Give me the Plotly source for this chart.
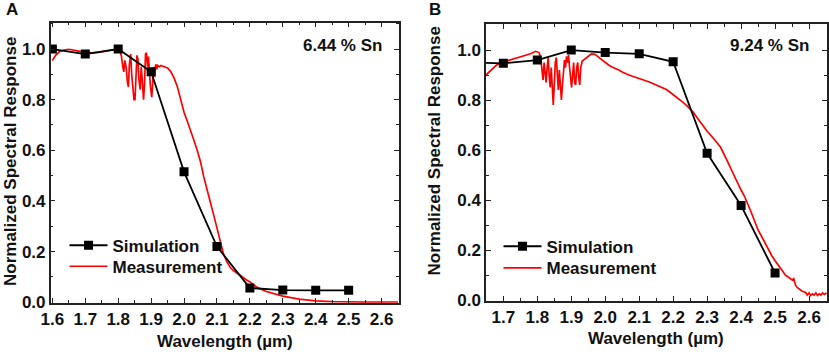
import plotly.graph_objects as go

# ---------------- Data ----------------
sim_x_a = [1.6, 1.7, 1.8, 1.9, 2.0, 2.1, 2.2, 2.3, 2.4, 2.5]
sim_y_a = [1.0, 0.98, 1.0, 0.91, 0.515, 0.22, 0.056, 0.048, 0.047, 0.047]

meas_x_a = [1.600, 1.610, 1.620, 1.635, 1.650, 1.665, 1.680, 1.700, 1.720, 1.740, 1.760, 1.780, 1.795, 1.805,
            1.810, 1.814, 1.817, 1.820, 1.824, 1.828, 1.831, 1.834, 1.838, 1.841, 1.845, 1.848, 1.851, 1.854,
            1.857, 1.860, 1.863, 1.867, 1.870, 1.873, 1.877, 1.880, 1.883, 1.886, 1.889, 1.892, 1.895, 1.898,
            1.902, 1.905, 1.908, 1.911, 1.914, 1.917, 1.920, 1.925, 1.930, 1.940, 1.950, 1.960, 1.970, 1.980,
            1.990, 2.000, 2.010, 2.020, 2.030, 2.040, 2.050, 2.060, 2.070, 2.080, 2.090, 2.100, 2.110, 2.120,
            2.130, 2.140, 2.150, 2.170, 2.190, 2.200, 2.220, 2.250, 2.270, 2.300, 2.350, 2.400, 2.450, 2.500,
            2.550, 2.600, 2.650]
meas_y_a = [0.955, 0.975, 0.988, 0.996, 0.999, 0.997, 0.992, 0.987, 0.985, 0.987, 0.991, 0.995, 0.999, 0.996,
            0.970, 0.930, 0.910, 0.955, 0.930, 0.870, 0.850, 0.940, 0.980, 0.900, 0.830, 0.800, 0.800, 0.900,
            0.975, 0.960, 0.880, 0.840, 0.930, 0.880, 0.800, 0.860, 0.980, 0.985, 0.930, 0.970, 0.900, 0.850,
            0.810, 0.870, 0.930, 0.890, 0.940, 0.920, 0.935, 0.930, 0.935, 0.930, 0.925, 0.910, 0.885, 0.850,
            0.800, 0.750, 0.715, 0.680, 0.640, 0.600, 0.555, 0.495, 0.450, 0.395, 0.345, 0.290, 0.235, 0.190,
            0.160, 0.138, 0.125, 0.105, 0.088, 0.080, 0.060, 0.042, 0.034, 0.024, 0.012, 0.005, 0.002, 0.000,
            0.000, 0.000, 0.000]

sim_x_b = [1.6, 1.7, 1.8, 1.9, 2.0, 2.1, 2.2, 2.3, 2.4, 2.5]
sim_y_b = [0.95, 0.947, 0.96, 1.0, 0.99, 0.985, 0.953, 0.587, 0.378, 0.108]

meas_x_b = [1.645, 1.660, 1.680, 1.700, 1.720, 1.740, 1.760, 1.780, 1.795, 1.805,
            1.810, 1.814, 1.817, 1.820, 1.823, 1.826, 1.829, 1.832, 1.835, 1.838, 1.841, 1.844, 1.847, 1.850,
            1.853, 1.856, 1.859, 1.862, 1.865, 1.868, 1.871, 1.874, 1.877, 1.880, 1.883, 1.886, 1.889, 1.892,
            1.895, 1.898, 1.901, 1.904, 1.907, 1.910, 1.913, 1.916, 1.919, 1.922, 1.925, 1.928, 1.932, 1.936,
            1.940, 1.945, 1.950, 1.955, 1.960, 1.965, 1.970, 1.980, 1.990, 2.000, 2.010, 2.020, 2.030, 2.040,
            2.050, 2.060, 2.070, 2.080, 2.090, 2.100, 2.110, 2.120, 2.130, 2.140, 2.150, 2.160, 2.170, 2.180,
            2.190, 2.200, 2.210, 2.220, 2.230, 2.240, 2.250, 2.260, 2.270, 2.280, 2.290, 2.300, 2.310, 2.320,
            2.330, 2.340, 2.350, 2.360, 2.370, 2.380, 2.390, 2.400, 2.410, 2.420, 2.430, 2.440, 2.450, 2.460,
            2.470, 2.480, 2.490, 2.500, 2.510, 2.520, 2.530, 2.540, 2.550, 2.555, 2.560, 2.565, 2.570, 2.580,
            2.590, 2.595, 2.600, 2.605, 2.610, 2.615, 2.620, 2.625, 2.630, 2.635, 2.640, 2.645, 2.650, 2.655]
meas_y_b = [0.895, 0.915, 0.940, 0.952, 0.960, 0.967, 0.976, 0.985, 0.995, 0.990,
            0.970, 0.920, 0.880, 0.950, 0.910, 0.870, 0.930, 0.970, 0.900, 0.850, 0.930, 0.860, 0.780, 0.860,
            0.950, 0.970, 0.900, 0.840, 0.920, 0.850, 0.800, 0.860, 0.930, 0.960, 0.930, 0.975, 0.950, 0.980,
            0.930, 0.890, 0.850, 0.900, 0.950, 0.870, 0.860, 0.930, 0.950, 0.890, 0.860, 0.930, 0.955, 0.960,
            0.965, 0.970, 0.975, 0.980, 0.985, 0.985, 0.983, 0.972, 0.960, 0.948, 0.940, 0.932, 0.927, 0.920,
            0.912, 0.905, 0.900, 0.895, 0.891, 0.887, 0.882, 0.878, 0.872, 0.866, 0.860, 0.855, 0.850, 0.842,
            0.832, 0.822, 0.812, 0.802, 0.790, 0.778, 0.765, 0.750, 0.730, 0.710, 0.693, 0.675, 0.660, 0.645,
            0.628, 0.610, 0.585, 0.555, 0.525, 0.495, 0.465, 0.440, 0.415, 0.385, 0.350, 0.315, 0.280, 0.255,
            0.230, 0.200, 0.178, 0.157, 0.140, 0.120, 0.100, 0.088, 0.080, 0.085, 0.060, 0.050, 0.045, 0.035,
            0.030, 0.020, 0.028, 0.018, 0.025, 0.020, 0.028, 0.018, 0.025, 0.020, 0.028, 0.022, 0.027, 0.024]

x_ticks_a = [1.6, 1.7, 1.8, 1.9, 2.0, 2.1, 2.2, 2.3, 2.4, 2.5, 2.6]
x_ticks_b = [1.7, 1.8, 1.9, 2.0, 2.1, 2.2, 2.3, 2.4, 2.5, 2.6]
y_ticks = [0.0, 0.2, 0.4, 0.6, 0.8, 1.0]

panel_labels = ["A", "B"]
sn_labels = ["6.44 % Sn", "9.24 % Sn"]
x_title = "Wavelength (µm)"
y_title = "Normalized Spectral Response"

# ---------------- Figure ----------------
W, H = 829, 354
FONT = "Liberation Sans, Arial, sans-serif"
RED = "#ff0000"
fig = go.Figure()

fig.add_trace(go.Scatter(x=meas_x_a, y=meas_y_a, mode="lines", name="Measurement",
                         line=dict(color=RED, width=1.7), xaxis="x", yaxis="y", legend="legend2"))
fig.add_trace(go.Scatter(x=sim_x_a, y=sim_y_a, mode="lines+markers", name="Simulation",
                         line=dict(color="black", width=1.8),
                         marker=dict(symbol="square", size=9, color="black"),
                         xaxis="x", yaxis="y", legend="legend"))
fig.add_trace(go.Scatter(x=meas_x_b, y=meas_y_b, mode="lines", name="Measurement",
                         line=dict(color=RED, width=1.7), xaxis="x2", yaxis="y2", legend="legend4"))
fig.add_trace(go.Scatter(x=sim_x_b, y=sim_y_b, mode="lines+markers", name="Simulation",
                         line=dict(color="black", width=1.8),
                         marker=dict(symbol="square", size=9, color="black"),
                         xaxis="x2", yaxis="y2", legend="legend3"))


def px_x(p):
    return p / W


def px_y(p):
    return 1 - p / H


common = dict(showgrid=False, zeroline=False, showline=True, linecolor="#222", linewidth=1.5,
              ticks="inside", ticklen=5, tickwidth=1.3, tickcolor="#222", mirror="allticks",
              tickfont=dict(family=FONT, size=17, color="#111", weight="bold"), automargin=False)

leg_font = dict(family=FONT, size=17, color="#111", weight="bold")


def leg(x, y):
    return dict(x=px_x(x), y=px_y(y), xanchor="left", yanchor="middle", bgcolor="rgba(0,0,0,0)",
                font=leg_font, itemwidth=38, borderwidth=0)


fig.update_layout(
    width=W, height=H,
    margin=dict(l=0, r=0, t=0, b=0),
    paper_bgcolor="white", plot_bgcolor="white",
    showlegend=True,
    xaxis=dict(domain=[px_x(50.7), px_x(399)], range=[1.595, 2.653], anchor="y",
               tickmode="array", tickvals=x_ticks_a, ticktext=[f"{v:.1f}" for v in x_ticks_a],
               minor=dict(ticks="inside", ticklen=3, dtick=0.05, tick0=1.6, tickcolor="#222", showgrid=False),
               **common),
    yaxis=dict(domain=[px_y(302.7), px_y(22.7)], range=[-0.002, 1.104], anchor="x",
               tickmode="array", tickvals=y_ticks, ticktext=[f"{v:.1f}" for v in y_ticks],
               minor=dict(ticks="inside", ticklen=3, dtick=0.1, tick0=0, tickcolor="#222", showgrid=False),
               **common),
    xaxis2=dict(domain=[px_x(486), px_x(826.7)], range=[1.649, 2.652], anchor="y2",
                tickmode="array", tickvals=x_ticks_b, ticktext=[f"{v:.1f}" for v in x_ticks_b],
                minor=dict(ticks="inside", ticklen=3, dtick=0.05, tick0=1.6, tickcolor="#222", showgrid=False),
                **common),
    yaxis2=dict(domain=[px_y(301), px_y(24.3)], range=[-0.004, 1.103], anchor="x2",
                tickmode="array", tickvals=y_ticks, ticktext=[f"{v:.1f}" for v in y_ticks],
                minor=dict(ticks="inside", ticklen=3, dtick=0.1, tick0=0, tickcolor="#222", showgrid=False),
                **common),
    legend=leg(64.5, 245.7),
    legend2=leg(64.5, 266.7),
    legend3=leg(498.5, 246.7),
    legend4=leg(498.5, 268.3),
)

ann_font = dict(family=FONT, size=17, color="#111", weight="bold")
annotations = [
    dict(text=panel_labels[0], x=px_x(4), y=px_y(10), xanchor="left", yanchor="middle"),
    dict(text=panel_labels[1], x=px_x(427), y=px_y(10), xanchor="left", yanchor="middle"),
    dict(text=sn_labels[0], x=px_x(384), y=px_y(45.7), xanchor="right", yanchor="middle"),
    dict(text=sn_labels[1], x=px_x(811), y=px_y(45), xanchor="right", yanchor="middle"),
    dict(text=x_title, x=px_x(224.9), y=px_y(341), xanchor="center", yanchor="middle"),
    dict(text=x_title, x=px_x(656), y=px_y(338.5), xanchor="center", yanchor="middle"),
    dict(text=y_title, x=px_x(10), y=px_y(162), xanchor="center", yanchor="middle", textangle=-90),
    dict(text=y_title, x=px_x(433.5), y=px_y(151), xanchor="center", yanchor="middle", textangle=-90),
]
for a in annotations:
    a.update(xref="paper", yref="paper", showarrow=False, font=ann_font)
fig.update_layout(annotations=annotations)

fig.write_html("out.html", config={"displayModeBar": False},
               post_script="document.body.style.margin='0';")
